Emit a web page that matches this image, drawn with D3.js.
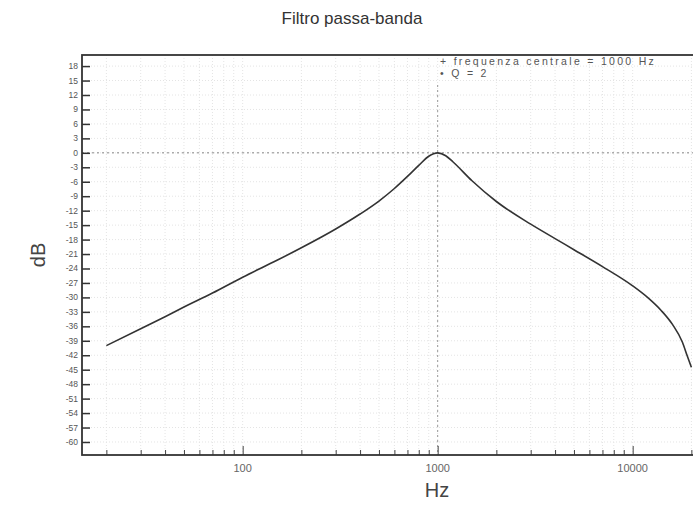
<!DOCTYPE html>
<html>
<head>
<meta charset="utf-8">
<style>
  body { margin: 0; background: #fff; }
  svg { display: block; font-family: "Liberation Sans", Arial, sans-serif; }
  .grid line { stroke: #e4e4e4; stroke-dasharray: 1,2; }
</style>
</head>
<body>
<svg id="chart" width="693" height="508"></svg>
<script src="https://cdn.jsdelivr.net/npm/d3@7"></script>
<script>
  // frequency (Hz) and response (dB)
  let freqs = [20, 30, 40, 50, 70, 100, 150, 200, 300, 400, 500, 600, 700, 800, 900, 1000,
               1100, 1200, 1500, 2000, 3000, 4000, 5000, 7000, 10000, 12000, 14000, 16000, 18000, 19000, 20000]
  let gainDb = [-40, -36.5, -34, -32, -29.1, -25.8, -22.3, -19.7, -15.8, -12.7, -10, -7.4, -4.9, -2.6, -0.7, 0,
                -0.6, -1.9, -5.8, -10.1, -14.8, -17.8, -20.1, -23.6, -27.6, -30.1, -32.7, -35.6, -39.3, -42, -44.5]
  let yTicks = d3.range(-60, 19, 3)
  let xLabels = [100, 1000, 10000]
  let legendLines = ["+ frequenza centrale = 1000 Hz", "\u2022 Q = 2"]

  let svg = d3.select("#chart")
  let plotLeft = 82, plotTop = 55, plotBottom = 455

  let xScale = d3.scaleLog()
      .domain([15, 27000])
      .range([plotLeft, plotLeft + 195 * Math.log10(27000 / 15)])
  let yScale = d3.scaleLinear()
      .domain([-62.7, 20.3])
      .range([plotBottom, plotTop])
  let plotRight = xScale.range()[1]

  // minor ticks of the log axis
  let minor = []
  for (let dec = 10; dec <= 10000; dec *= 10)
      for (let k = 2; k <= 9; k++)
          if (dec * k >= 15 && dec * k <= 27000) minor.push(dec * k)

  // faint grid
  let grid = svg.append("g").attr("class", "grid")
  grid.selectAll(".gy").data(yTicks).enter().append("line")
      .attr("x1", plotLeft).attr("x2", plotRight)
      .attr("y1", d => yScale(d)).attr("y2", d => yScale(d))
  grid.selectAll(".gx").data(minor.concat(xLabels)).enter().append("line")
      .attr("x1", d => xScale(d)).attr("x2", d => xScale(d))
      .attr("y1", plotTop).attr("y2", plotBottom)

  // reference lines at 0 dB and 1000 Hz
  svg.append("line")
      .attr("x1", plotLeft).attr("x2", plotRight)
      .attr("y1", yScale(0)).attr("y2", yScale(0))
      .attr("stroke", "#888").attr("stroke-dasharray", "2,3")
  svg.append("line")
      .attr("x1", xScale(1000)).attr("x2", xScale(1000))
      .attr("y1", plotTop + 30).attr("y2", plotBottom)
      .attr("stroke", "#999").attr("stroke-dasharray", "2,3")

  // y axis, ticks pointing inward
  let yAxis = svg.append("g")
      .attr("transform", "translate(" + plotLeft + ",0)")
      .call(d3.axisRight(yScale).tickValues(yTicks).tickSize(8).tickFormat(""))
  yAxis.select(".domain").remove()
  yAxis.selectAll("line").attr("stroke", "#333").attr("stroke-width", 1.5)
  svg.selectAll(".ylab").data(yTicks).enter().append("text")
      .attr("x", plotLeft - 4).attr("y", d => yScale(d) + 3)
      .attr("text-anchor", "end")
      .attr("font-size", 8.5).attr("fill", "#555")
      .text(d => d)

  // x axis: minor and major ticks
  let xAxis = svg.append("g")
      .attr("transform", "translate(0," + plotBottom + ")")
  xAxis.append("g")
      .call(d3.axisTop(xScale).tickValues(minor).tickSize(5).tickFormat(""))
      .select(".domain").remove()
  xAxis.append("g")
      .call(d3.axisTop(xScale).tickValues(xLabels).tickSize(9).tickFormat(""))
      .select(".domain").remove()
  xAxis.selectAll("line").attr("stroke", "#444")
  svg.selectAll(".xlab").data(xLabels).enter().append("text")
      .attr("x", d => xScale(d)).attr("y", plotBottom + 17)
      .attr("text-anchor", "middle")
      .attr("font-size", 11).attr("fill", "#666")
      .text(d => d)

  // frame
  svg.append("rect")
      .attr("x", plotLeft).attr("y", plotTop)
      .attr("width", plotRight - plotLeft).attr("height", plotBottom - plotTop)
      .attr("fill", "none").attr("stroke", "#333").attr("stroke-width", 1.8)

  // response curve
  let line = d3.line()
      .x((d, i) => xScale(freqs[i]))
      .y(d => yScale(d))
      .curve(d3.curveMonotoneX)
  svg.append("path")
      .datum(gainDb)
      .attr("d", line)
      .attr("fill", "none")
      .attr("stroke", "#333")
      .attr("stroke-width", 1.6)

  // legend
  svg.selectAll(".leg").data(legendLines).enter().append("text")
      .attr("x", 440).attr("y", (d, i) => 65 + i * 12)
      .attr("font-size", 10.5).attr("letter-spacing", 2.3).attr("fill", "#555")
      .text(d => d)

  // titles
  svg.append("text")
      .attr("x", 352).attr("y", 24)
      .attr("text-anchor", "middle")
      .attr("font-size", 17).attr("fill", "#333")
      .text("Filtro passa-banda")
  svg.append("text")
      .attr("x", 437).attr("y", 497)
      .attr("text-anchor", "middle")
      .attr("font-size", 20).attr("fill", "#444")
      .text("Hz")
  svg.append("text")
      .attr("transform", "translate(45," + ((plotTop + plotBottom) / 2) + ") rotate(-90)")
      .attr("text-anchor", "middle")
      .attr("font-size", 20).attr("fill", "#444")
      .text("dB")
</script>
</body>
</html>
